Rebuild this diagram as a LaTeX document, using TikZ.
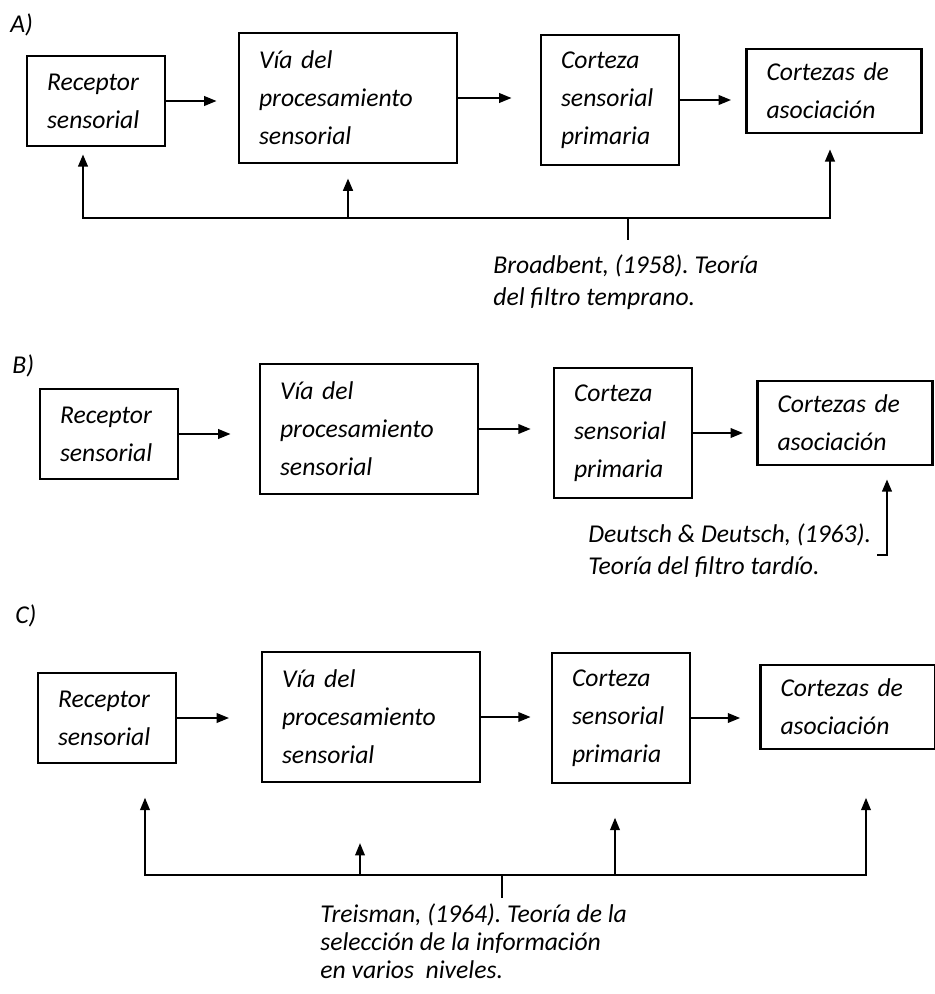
\documentclass[tikz,border=0pt]{standalone}
\usepackage{fontspec}
\setmainfont{Carlito}
\usepackage{tikz}
\usetikzlibrary{arrows.meta,positioning}
\frenchspacing

\begin{document}
\begin{tikzpicture}[x=0.02cm, y=-0.02cm,
  font=\fontsize{14.6}{21.6}\selectfont\itshape,
  box/.style={draw, line width=1.6pt, align=left, inner xsep=11.4pt, inner ysep=0pt},
  recbox/.style={box, text width=1.96cm, minimum height=1.8cm},
  viabox/.style={box, text width=3.56cm, minimum height=2.6cm},
  corbox/.style={box, text width=1.96cm, minimum height=2.6cm},
  asocbox/.style={box, text width=2.7cm, minimum height=1.68cm},
  flow/.style={-{Triangle[length=7pt,width=5.5pt]}, line width=0.9pt},
  fb/.style={-{Triangle[length=7pt,width=5.5pt]}, line width=1.3pt},
  bus/.style={line width=1.3pt},
  note/.style={align=left, inner sep=0pt, font=\fontsize{14.6}{18.5}\selectfont\itshape},
  panel/.style={anchor=base west, inner sep=0pt}]
  \useasboundingbox (0,0) rectangle (935,994);

  % A) filtro temprano
  \node[panel] (labA) at (10,32) {A)};
  \node[recbox] (recA) at (96,101) {Receptor\\sensorial};
  \node[viabox] (viaA) at (348,98) {Vía del\\procesamiento\\sensorial};
  \node[corbox] (corA) at (610,100) {Corteza\\sensorial\\primaria};
  \node[asocbox] (asocA) at (834,91) {Cortezas de\\asociación};
  \draw[flow, shorten >=12pt] (recA.east) -- (recA.east -| viaA.west);
  \draw[flow, shorten >=16pt] (viaA.east) -- (viaA.east -| corA.west);
  \draw[flow, shorten >=8pt] (corA.east) -- (corA.east -| asocA.west);
  \coordinate (busA-l) at (83,218);
  \coordinate (busA-r) at (830,218);
  \coordinate (busA-t) at (628,218);
  \draw[fb, {Triangle[length=7pt,width=5.5pt]}-{Triangle[length=7pt,width=5.5pt]},
        shorten <=4pt, shorten >=8.5pt]
    (recA.south -| busA-l) -- (busA-l) -- (busA-r) -- (asocA.south -| busA-r);
  \draw[fb, shorten >=8pt] (viaA.south |- busA-l) -- (viaA.south);
  \node[note, anchor=north west] (noteA) at (493,254) {Broadbent, (1958). Teoría\\del filtro temprano.};
  \draw[bus, shorten >=8pt] (busA-t) -- (busA-t |- noteA.north);

  % B) filtro tardio
  \node[panel] (labB) at (12,373) {B)};
  \node[recbox] (recB) at (109,434) {Receptor\\sensorial};
  \node[viabox] (viaB) at (369,429) {Vía del\\procesamiento\\sensorial};
  \node[corbox] (corB) at (623,433) {Corteza\\sensorial\\primaria};
  \node[asocbox] (asocB) at (845,423) {Cortezas de\\asociación};
  \draw[flow, shorten >=16pt] (recB.east) -- (recB.east -| viaB.west);
  \draw[flow, shorten >=12.5pt] (viaB.east) -- (viaB.east -| corB.west);
  \draw[flow, shorten >=7.5pt] (corB.east) -- (corB.east -| asocB.west);
  \node[note, anchor=north west] (noteB) at (588,523) {Deutsch \& Deutsch, (1963).\\Teoría del filtro tardío.};
  \coordinate (tailB) at (877,555);
  \coordinate (kneeB) at (887,555);
  \draw[fb, shorten >=7.4pt] (tailB) -- (kneeB) -- (kneeB |- asocB.south);

  % C) seleccion en varios niveles
  \node[panel] (labC) at (15,623) {C)};
  \node[recbox] (recC) at (107,718) {Receptor\\sensorial};
  \node[viabox] (viaC) at (371,717) {Vía del\\procesamiento\\sensorial};
  \node[corbox] (corC) at (621,718) {Corteza\\sensorial\\primaria};
  \node[asocbox] (asocC) at (848,707) {Cortezas de\\asociación};
  \draw[flow, shorten >=18pt] (recC.east) -- (recC.east -| viaC.west);
  \draw[flow, shorten >=11.4pt] (viaC.east) -- (viaC.east -| corC.west);
  \draw[flow, shorten >=10.8pt] (corC.east) -- (corC.east -| asocC.west);
  \coordinate (busC-l) at (145,875);
  \coordinate (busC-r) at (866,875);
  \coordinate (busC-v) at (360,875);
  \coordinate (busC-c) at (615,875);
  \coordinate (busC-t) at (502,875);
  \draw[flow, {Triangle[length=7pt,width=5.5pt]}-{Triangle[length=7pt,width=5.5pt]},
        shorten <=19pt, shorten >=27pt]
    (recC.south -| busC-l) -- (busC-l) -- (busC-r) -- (asocC.south -| busC-r);
  \draw[flow, shorten >=34pt] (busC-v) -- (viaC.south -| busC-v);
  \draw[flow, shorten >=19pt] (busC-c) -- (corC.south -| busC-c);
  \node[note, anchor=north west, font=\fontsize{14.6}{16}\selectfont\itshape] (noteC) at (320,903) {Treisman, (1964). Teoría de la\\selección de la información\\en varios\ \ niveles.};
  \draw[flow, -, shorten >=3pt] (busC-t) -- (busC-t |- noteC.north);
\end{tikzpicture}
\end{document}
